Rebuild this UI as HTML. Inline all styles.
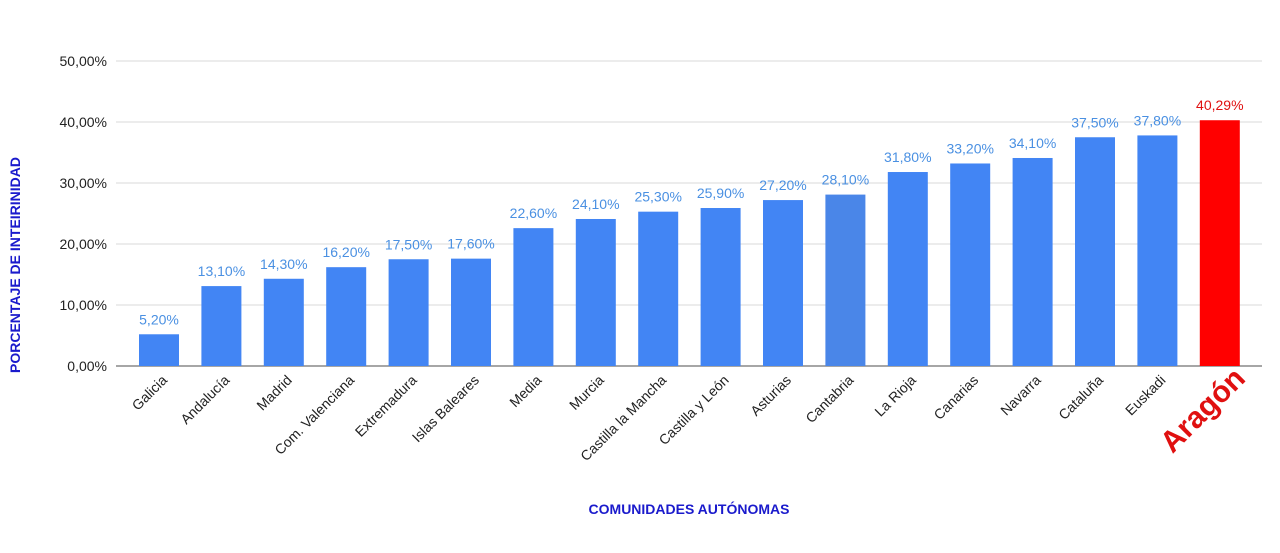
<!DOCTYPE html>
<html><head><meta charset="utf-8"><style>
body{margin:0;background:#fff;}
svg text{font-family:"Liberation Sans",sans-serif;}
</style></head><body>
<svg id="chart" width="1280" height="548"></svg>
<script>
const categories=["Galicia","Andalucía","Madrid","Com. Valenciana","Extremadura","Islas Baleares","Media","Murcia","Castilla la Mancha","Castilla y León","Asturias","Cantabria","La Rioja","Canarias","Navarra","Cataluña","Euskadi","Aragón"];
const values=[5.20,13.10,14.30,16.20,17.50,17.60,22.60,24.10,25.30,25.90,27.20,28.10,31.80,33.20,34.10,37.50,37.80,40.29];
const valueLabels=["5,20%","13,10%","14,30%","16,20%","17,50%","17,60%","22,60%","24,10%","25,30%","25,90%","27,20%","28,10%","31,80%","33,20%","34,10%","37,50%","37,80%","40,29%"];
const yTicks=[0,10,20,30,40,50];
const yTickLabels=["0,00%","10,00%","20,00%","30,00%","40,00%","50,00%"];
const svg=document.getElementById('chart');
const NS='http://www.w3.org/2000/svg';
const y0=366,yTop=61,yMax=50,x0=159,step=62.4,bw=40;
const y=v=>y0-(v/yMax)*(y0-yTop);
const x=i=>x0+i*step;
function mk(t,a,txt){const e=document.createElementNS(NS,t);for(const k in a)e.setAttribute(k,a[k]);if(txt!==undefined)e.textContent=txt;svg.appendChild(e);return e;}
yTicks.forEach((t,i)=>{
 const g=mk('line',{x1:116,x2:1262,y1:y(t),y2:y(t),stroke:i==0?'#888':'#d9d9d9','stroke-width':i==0?1.5:1});
 
 
 const l=mk('text',{x:107,y:y(t)+5,'text-anchor':'end','font-size':14,fill:'#222'},yTickLabels[i]);
 
 
});
categories.forEach((c,i)=>{
 const last=i==categories.length-1;
 const col=last?'#ff0000':(c=="Cantabria"?'#4a86e8':'#4285f4');
 const r=mk('rect',{x:x(i)-bw/2,y:y(values[i]),width:bw,height:y0-y(values[i]),fill:col});
 
 
 const v=mk('text',{x:x(i),y:y(values[i])-10,'text-anchor':'middle','font-size':14,fill:last?'#e01010':'#4a90e2'},valueLabels[i]);
 
 
 const lx=last?x(i)+27:x(i)+9,ly=last?380:381;
 const t=mk('text',{x:lx,y:ly,'text-anchor':'end','font-size':last?30:14,'font-weight':last?'bold':'normal',fill:last?'#e01010':'#222',transform:`rotate(-45 ${lx} ${ly})`},c);
 
 
});
const yt=mk('text',{x:20,y:265,'text-anchor':'middle','font-size':14,'font-weight':'bold',fill:'#1a1acc',transform:'rotate(-90 20 265)'},'PORCENTAJE DE INTEIRINIDAD');


const xt=mk('text',{x:689,y:514,'text-anchor':'middle','font-size':14,'font-weight':'bold',fill:'#1a1acc'},'COMUNIDADES AUTÓNOMAS');


</script>
</body></html>
